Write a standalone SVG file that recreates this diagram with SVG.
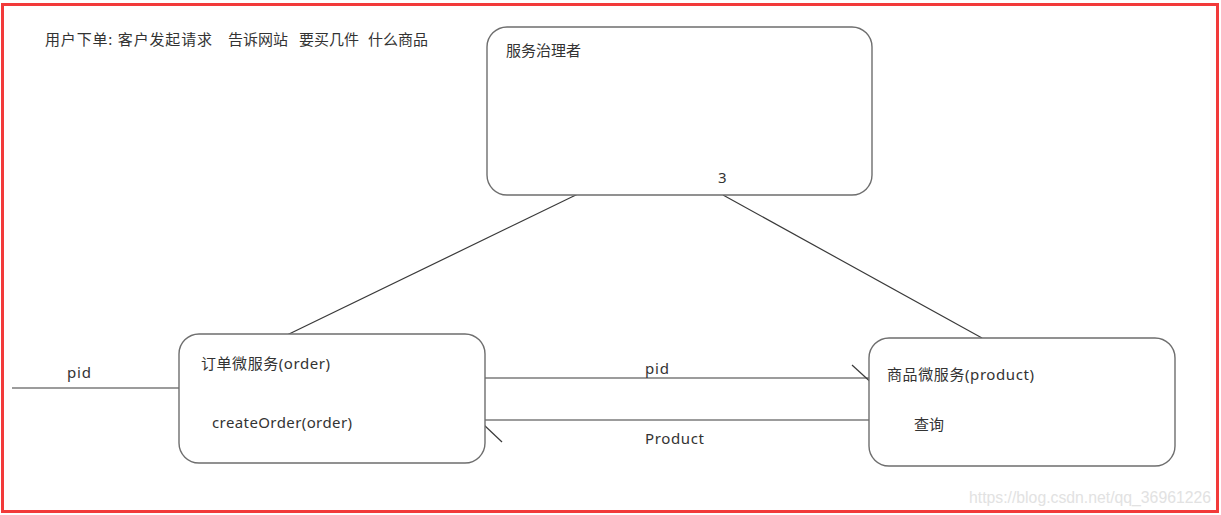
<svg xmlns="http://www.w3.org/2000/svg" width="1221" height="515" viewBox="0 0 1221 515">
<style>
.box{fill:#fff;stroke:#6e6e6e;stroke-width:1.4}
.ln{stroke:#3a3a3a;stroke-width:1.2;fill:none}
.t{font-family:"Noto Sans","Noto Sans CJK SC",sans-serif;font-size:15px;fill:#333}
.wm{font-family:"Liberation Sans",Arial,sans-serif;font-size:16px;fill:#e2e2e2}
</style>
<rect x="0" y="0" width="1221" height="515" fill="#fff"/>
<rect x="2.5" y="4.5" width="1215" height="507" fill="none" stroke="#f23a3a" stroke-width="3"/>
<text class="t" y="45"><tspan x="45" textLength="167" lengthAdjust="spacing">用户下单: 客户发起请求</tspan><tspan x="228">告诉网站</tspan><tspan x="299">要买几件</tspan><tspan x="368">什么商品</tspan></text>
<g id="connectors">
<line class="ln" x1="580" y1="193" x2="287" y2="335"/>
<line class="ln" x1="723" y1="195" x2="982" y2="338"/>
<line class="ln" x1="12" y1="388" x2="180" y2="388"/>
<line class="ln" x1="485" y1="378" x2="869" y2="378"/>
<line class="ln" x1="852" y1="365" x2="875" y2="386"/>
<line class="ln" x1="485" y1="420" x2="869" y2="420"/>
<line class="ln" x1="484" y1="425" x2="502" y2="442"/>
<text class="t" x="67" y="378" textLength="24">pid</text>
<text class="t" x="645" y="374" textLength="24">pid</text>
<text class="t" x="645" y="444" textLength="59">Product</text>
</g>
<g id="governor">
<rect class="box" x="487" y="27" width="385" height="168" rx="20"/>
<text class="t" x="506" y="56">服务治理者</text>
<text class="t" x="718" y="183">3</text>
</g>
<g id="order">
<rect class="box" x="179" y="334" width="306" height="129" rx="20"/>
<text class="t" x="201" y="369" textLength="129">订单微服务(order)</text>
<text class="t" x="212" y="428" textLength="140">createOrder(order)</text>
</g>
<g id="product">
<rect class="box" x="869" y="338" width="306" height="128" rx="20"/>
<text class="t" x="887" y="380" textLength="147">商品微服务(product)</text>
<text class="t" x="914" y="430">查询</text>
</g>
<text class="wm" x="969" y="503" textLength="242" lengthAdjust="spacingAndGlyphs">https://blog.csdn.net/qq_36961226</text>
</svg>
